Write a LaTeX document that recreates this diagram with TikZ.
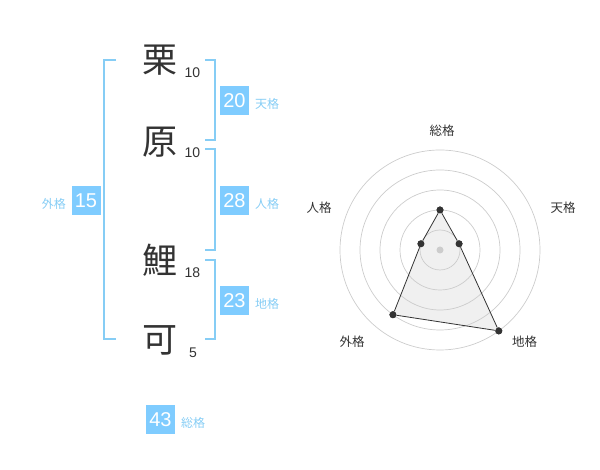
\documentclass[tikz,border=0pt]{standalone}
\usepackage{fontspec}
\setmainfont{Liberation Sans}
\newfontfamily\jpfont{Noto Sans CJK JP}
\definecolor{skyb}{HTML}{7FCCFF}
\definecolor{skylb}{HTML}{86CDF5}
\definecolor{ink}{HTML}{333333}
\definecolor{ring}{HTML}{CCCCCC}
\begin{document}
\begin{tikzpicture}[x=1pt, y=1pt,
  kanji/.style={inner sep=0pt, text=ink, font=\jpfont\fontsize{35}{35}\selectfont},
  strokes/.style={inner sep=0pt, text=ink, font=\fontsize{14}{14}\selectfont},
  valbox/.style={fill=skyb, text=white, inner sep=0pt, minimum size=29pt,
                 font=\fontsize{20}{20}\selectfont},
  vallab/.style={inner sep=0pt, text=skylb, font=\jpfont\fontsize{12}{12}\selectfont},
  brk/.style={draw=skylb, line width=1.8pt},
  axlab/.style={inner sep=0pt, text=ink, font=\jpfont\fontsize{12.5}{12.5}\selectfont},
  dot/.style={circle, fill=ink, inner sep=0pt, minimum size=7pt}
]
\useasboundingbox (0,0) rectangle (600,470);

% name
\node[kanji] (k1) at (160,410) {栗};
\node[kanji] (k2) at (160,328) {原};
\node[kanji] (k3) at (160,210) {鯉};
\node[kanji] (k4) at (160,130) {可};
\node[strokes] (s1) at (192.5,397.5) {10};
\node[strokes] (s2) at (192.5,317.5) {10};
\node[strokes] (s3) at (192.5,197.5) {18};
\node[strokes] (s4) at (193,117.5) {5};

% brackets
\draw[brk] (116,410) -- (104,410) -- (104,131) -- (116,131);
\draw[brk] (205,410) -- (215,410) -- (215,330) -- (205,330);
\draw[brk] (205,321) -- (215,321) -- (215,220) -- (205,220);
\draw[brk] (205,210) -- (215,210) -- (215,131) -- (205,131);

% values
\node[valbox] (ten) at (234.5,369.5) {20};
\node[vallab, anchor=west] at (255,366) {天格};
\node[valbox] (jin) at (234.5,269.5) {28};
\node[vallab, anchor=west] at (255,266) {人格};
\node[valbox] (chi) at (234.5,169.5) {23};
\node[vallab, anchor=west] at (255,166) {地格};
\node[valbox] (gai) at (86,269.5) {15};
\node[vallab, anchor=east] at (66,266) {外格};
\node[valbox] (sou) at (160.5,50.5) {43};
\node[vallab, anchor=west] at (181,47) {総格};

% radar
\begin{scope}[shift={(440,220)}]
\coordinate (c) at (0,0);
\node[dot] (rsou) at (90:40) {};
\node[dot] (rten) at (18:20) {};
\node[dot] (rchi) at (-54:100) {};
\node[dot] (rgai) at (-126:80) {};
\node[dot] (rjin) at (162:20) {};
\fill[black!6] (rsou.center) -- (rten.center) -- (rchi.center) -- (rgai.center) -- (rjin.center) -- cycle;
\foreach \r in {20,40,...,100}
  \draw[ring, line width=0.7pt] (c) circle (\r);
\fill[ring] (c) circle (3.5);
\draw[ink, line width=0.8pt] (rsou) -- (rten) -- (rchi) -- (rgai) -- (rjin) -- (rsou);
\node[dot] at (rsou) {};
\node[dot] at (rten) {};
\node[dot] at (rchi) {};
\node[dot] at (rgai) {};
\node[dot] at (rjin) {};
\node[axlab] at (2,119.3) {総格};
\node[axlab] at (123,42) {天格};
\node[axlab] at (84.5,-92) {地格};
\node[axlab] at (-88,-91.7) {外格};
\node[axlab] at (-121,42) {人格};
\end{scope}
\end{tikzpicture}
\end{document}
